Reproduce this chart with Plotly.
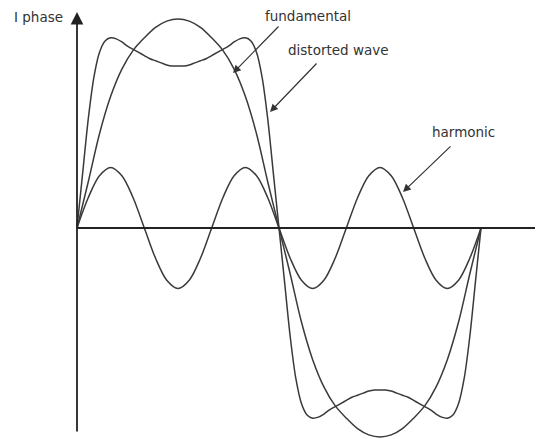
import plotly.graph_objects as go

# ---- data (angle in degrees, values in units of fundamental amplitude) ----
theta_10 = [0, 10, 20, 30, 40, 50, 60, 70, 80, 90, 100, 110, 120, 130, 140, 150, 160, 170, 180,
            190, 200, 210, 220, 230, 240, 250, 260, 270, 280, 290, 300, 310, 320, 330, 340, 350, 360]
fundamental = [0, .22, .45, .63, .76, .85, .91, .96, .99, 1.0, .99, .96, .91, .85, .76, .63, .45, .22, 0,
               -.22, -.45, -.63, -.76, -.85, -.91, -.96, -.99, -1.0, -.99, -.96, -.91, -.85, -.76, -.63, -.45, -.22, 0]
harmonic = [0, .145, .25, .29, .25, .145, 0, -.145, -.25, -.29, -.25, -.145, 0, .145, .25, .29, .25, .145, 0,
            -.145, -.25, -.29, -.25, -.145, 0, .145, .25, .29, .25, .145, 0, -.145, -.25, -.29, -.25, -.145, 0]

theta_5 = [0, 5, 10, 15, 20, 25, 30, 35, 40, 45, 50, 55, 60, 65, 70, 75, 80, 85, 90, 95, 100, 105, 110,
           115, 120, 125, 130, 135, 140, 145, 150, 155, 160, 165, 170, 175, 180,
           185, 190, 195, 200, 205, 210, 215, 220, 225, 230, 235, 240, 245, 250, 255, 260, 265, 270,
           275, 280, 285, 290, 295, 300, 305, 310, 315, 320, 325, 330, 335, 340, 345, 350, 355, 360]
distorted = [0, .26, .52, .72, .84, .895, .91, .905, .89, .87, .855, .84, .825, .81, .80, .79, .78, .775, .775,
             .775, .78, .79, .80, .81, .825, .84, .855, .87, .89, .905, .91, .895, .84, .72, .52, .26, 0,
             -.26, -.52, -.72, -.84, -.895, -.91, -.905, -.89, -.87, -.855, -.84, -.825, -.81, -.80, -.79, -.78, -.775, -.775,
             -.775, -.78, -.79, -.80, -.81, -.825, -.84, -.855, -.87, -.89, -.905, -.91, -.895, -.84, -.72, -.52, -.26, 0]

labels = ["fundamental", "distorted wave", "harmonic"]
y_title = "I phase"

# ---- layout helpers (page pixel -> data) ----
W, H = 543, 439
PAGE_OFF = 8  # page body margin of the browser
X0, XS = 77.0, 202.0 / 180.0
Y0, YS = 228.0, 209.0


def px(x):
    return (x - X0) / XS


def py(y):
    return (Y0 - y) / YS


curve_col = "#3a3a3a"
fig = go.Figure()
for xs, ys in [(theta_10, fundamental), (theta_10, harmonic), (theta_5, distorted)]:
    fig.add_trace(go.Scatter(x=xs, y=ys, mode="lines",
                             line=dict(color=curve_col, width=1.5, shape="spline", smoothing=0.9),
                             hoverinfo="skip"))

# axes
fig.add_shape(type="line", x0=0, x1=px(W + 10), y0=0, y1=0, line=dict(color="#222", width=2))
fig.add_annotation(x=0, y=py(12), ax=0, ay=py(433), xref="x", yref="y", axref="x", ayref="y",
                   text="", showarrow=True, arrowhead=2, arrowsize=1.4, arrowwidth=1.8,
                   arrowcolor="#222", standoff=0)

font = dict(family="DejaVu Sans", size=13.5, color="#333")
fig.add_annotation(x=px(38), y=py(17), text=y_title, showarrow=False, font=font)

# label texts and arrows
label_pos = [(308, 15.5), (338, 50), (463, 132)]
arrows = [((280, 25), (233, 73)), ((318, 62), (270, 112)), ((452, 145), (403, 192))]
for lab, (tx, ty), (tail, head) in zip(labels, label_pos, arrows):
    fig.add_annotation(x=px(tx), y=py(ty), text=lab, showarrow=False, font=font)
    fig.add_annotation(x=px(head[0]), y=py(head[1]), ax=px(tail[0]), ay=py(tail[1]),
                       xref="x", yref="y", axref="x", ayref="y", text="", showarrow=True,
                       arrowhead=2, arrowsize=1.3, arrowwidth=1.2, arrowcolor="#333", standoff=0)

fig.update_layout(
    width=W, height=H, margin=dict(l=0, r=0, t=0, b=0),
    paper_bgcolor="white", plot_bgcolor="white", showlegend=False,
    xaxis=dict(range=[px(PAGE_OFF), px(W + PAGE_OFF)], visible=False, fixedrange=True),
    yaxis=dict(range=[py(H + PAGE_OFF), py(PAGE_OFF)], visible=False, fixedrange=True),
)
fig.write_html("out.html")
